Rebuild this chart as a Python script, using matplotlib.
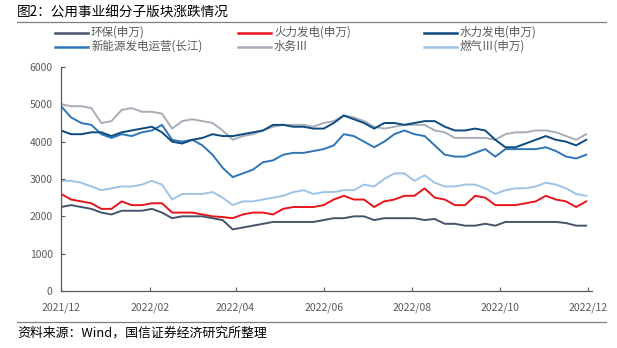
import matplotlib
matplotlib.use("Agg")
import matplotlib.pyplot as plt
import matplotlib.dates as mdates
from matplotlib.lines import Line2D
import pandas as pd

plt.rcParams['font.family'] = ['Noto Sans CJK SC', 'DejaVu Sans']

dates = pd.date_range('2021-12-01', periods=53, freq='7D')

env = [2250, 2300, 2250, 2200, 2100, 2050, 2150, 2150, 2150, 2200, 2100, 1950, 2000, 2000,
       2000, 1950, 1900, 1650, 1700, 1750, 1800, 1850, 1850, 1850, 1850, 1850, 1900, 1950,
       1950, 2000, 2000, 1900, 1950, 1950, 1950, 1950, 1900, 1930, 1800, 1800, 1750, 1750,
       1800, 1750, 1850, 1850, 1850, 1850, 1850, 1850, 1820, 1750, 1750]
thermal = [2600, 2450, 2400, 2350, 2200, 2200, 2400, 2300, 2300, 2350, 2350, 2100, 2100, 2100,
           2050, 2000, 1980, 1950, 2050, 2100, 2100, 2050, 2200, 2250, 2250, 2250, 2300, 2450,
           2550, 2450, 2450, 2250, 2400, 2450, 2550, 2550, 2750, 2500, 2450, 2300, 2300, 2550,
           2500, 2300, 2300, 2300, 2350, 2400, 2550, 2450, 2400, 2250, 2400]
hydro = [4300, 4200, 4200, 4250, 4250, 4150, 4250, 4300, 4350, 4400, 4250, 4000, 3950, 4050,
         4100, 4200, 4150, 4150, 4200, 4250, 4300, 4450, 4450, 4400, 4400, 4350, 4350, 4500,
         4700, 4600, 4500, 4350, 4500, 4500, 4450, 4500, 4550, 4550, 4400, 4300, 4300, 4350,
         4300, 4050, 3850, 3850, 3950, 4050, 4150, 4050, 4000, 3900, 4050]
new_energy = [4950, 4650, 4500, 4450, 4200, 4100, 4200, 4150, 4250, 4300, 4450, 4050, 4000, 4050,
              3900, 3650, 3300, 3050, 3150, 3250, 3450, 3500, 3650, 3700, 3700, 3750, 3800, 3900,
              4200, 4150, 4000, 3850, 4000, 4200, 4300, 4200, 4150, 3900, 3650, 3600, 3600, 3700,
              3800, 3600, 3800, 3800, 3800, 3800, 3850, 3750, 3600, 3550, 3650]
water = [5000, 4950, 4950, 4900, 4500, 4550, 4850, 4900, 4800, 4800, 4750, 4350, 4550, 4600,
         4550, 4500, 4300, 4050, 4150, 4200, 4300, 4400, 4450, 4450, 4450, 4400, 4500, 4550,
         4700, 4650, 4550, 4400, 4350, 4400, 4450, 4450, 4450, 4300, 4250, 4100, 4100, 4100,
         4100, 4050, 4200, 4250, 4250, 4300, 4300, 4250, 4150, 4050, 4200]
gas = [2950, 2950, 2900, 2800, 2700, 2750, 2800, 2800, 2850, 2950, 2850, 2450, 2600, 2600,
       2600, 2650, 2500, 2300, 2400, 2400, 2450, 2500, 2550, 2650, 2700, 2600, 2650, 2650,
       2700, 2700, 2850, 2800, 3000, 3150, 3150, 2950, 3100, 2900, 2800, 2800, 2850, 2850,
       2750, 2600, 2700, 2750, 2750, 2800, 2900, 2850, 2750, 2600, 2550]

labels = ['环保(申万)', '火力发电(申万)', '水力发电(申万)',
          '新能源发电运营(长江)', '水务Ⅲ', '燃气Ⅲ(申万)']
colors = ['#44546A', '#E8141C', '#0C4A80', '#2E75B6', '#A6ADB7', '#9DC3E6']
series = [env, thermal, hydro, new_energy, water, gas]

W, H = 617, 348
fig = plt.figure(figsize=(W / 100, H / 100), dpi=100)
ax = fig.add_axes([61 / W, 57 / H, (592 - 61) / W, 224 / H])

# draw back-to-front so the darker series sit on top
order = [4, 5, 3, 2, 1, 0]
for i in order:
    ax.plot(dates, series[i], color=colors[i], lw=1.4, solid_joinstyle='round')

ax.set_ylim(0, 6000)
ax.set_yticks([0, 1000, 2000, 3000, 4000, 5000, 6000])
ax.set_xlim(pd.Timestamp('2021-12-01'), pd.Timestamp('2022-12-04'))
ax.xaxis.set_major_locator(mdates.MonthLocator(bymonth=[2, 4, 6, 8, 10, 12]))
ax.xaxis.set_major_formatter(mdates.DateFormatter('%Y/%m'))

for s in ['top', 'right']:
    ax.spines[s].set_visible(False)
for s in ['left', 'bottom']:
    ax.spines[s].set_color('#595959')
    ax.spines[s].set_linewidth(0.9)
ax.tick_params(axis='both', direction='in', length=3, width=0.8, color='#595959',
               labelcolor='#595959', labelsize=7.5)
ax.tick_params(axis='x', pad=8)
ax.tick_params(axis='y', pad=6)

# header
fig.text(17 / W, 1 - 12.5 / H, '图2：公用事业细分子版块涨跌情况', fontsize=9.8,
         va='center', ha='left', color='#000000')
fig.add_artist(Line2D([17 / W, 606 / W], [1 - 21.5 / H, 1 - 21.5 / H],
                      color='#7F7F7F', lw=0.9))

# legend laid out in two rows of three
col_x = [55, 238, 424]
row_y = [32.5, 46.5]
grid = [[0, 1, 2], [3, 4, 5]]
for r, row in enumerate(grid):
    for c, idx in enumerate(row):
        y = 1 - row_y[r] / H
        fig.add_artist(Line2D([col_x[c] / W, (col_x[c] + 33) / W], [y, y],
                              color=colors[idx], lw=1.8))
        fig.text((col_x[c] + 36) / W, y, labels[idx], fontsize=8.3, va='center',
                 ha='left', color='#595959')

# footer
fig.add_artist(Line2D([17 / W, 606 / W], [1 - 321.5 / H, 1 - 321.5 / H],
                      color='#7F7F7F', lw=0.9))
fig.text(17 / W, 1 - 333 / H, '资料来源：Wind，国信证券经济研究所整理', fontsize=9.3,
         va='center', ha='left', color='#000000')

fig.savefig('out.png', dpi=100)
